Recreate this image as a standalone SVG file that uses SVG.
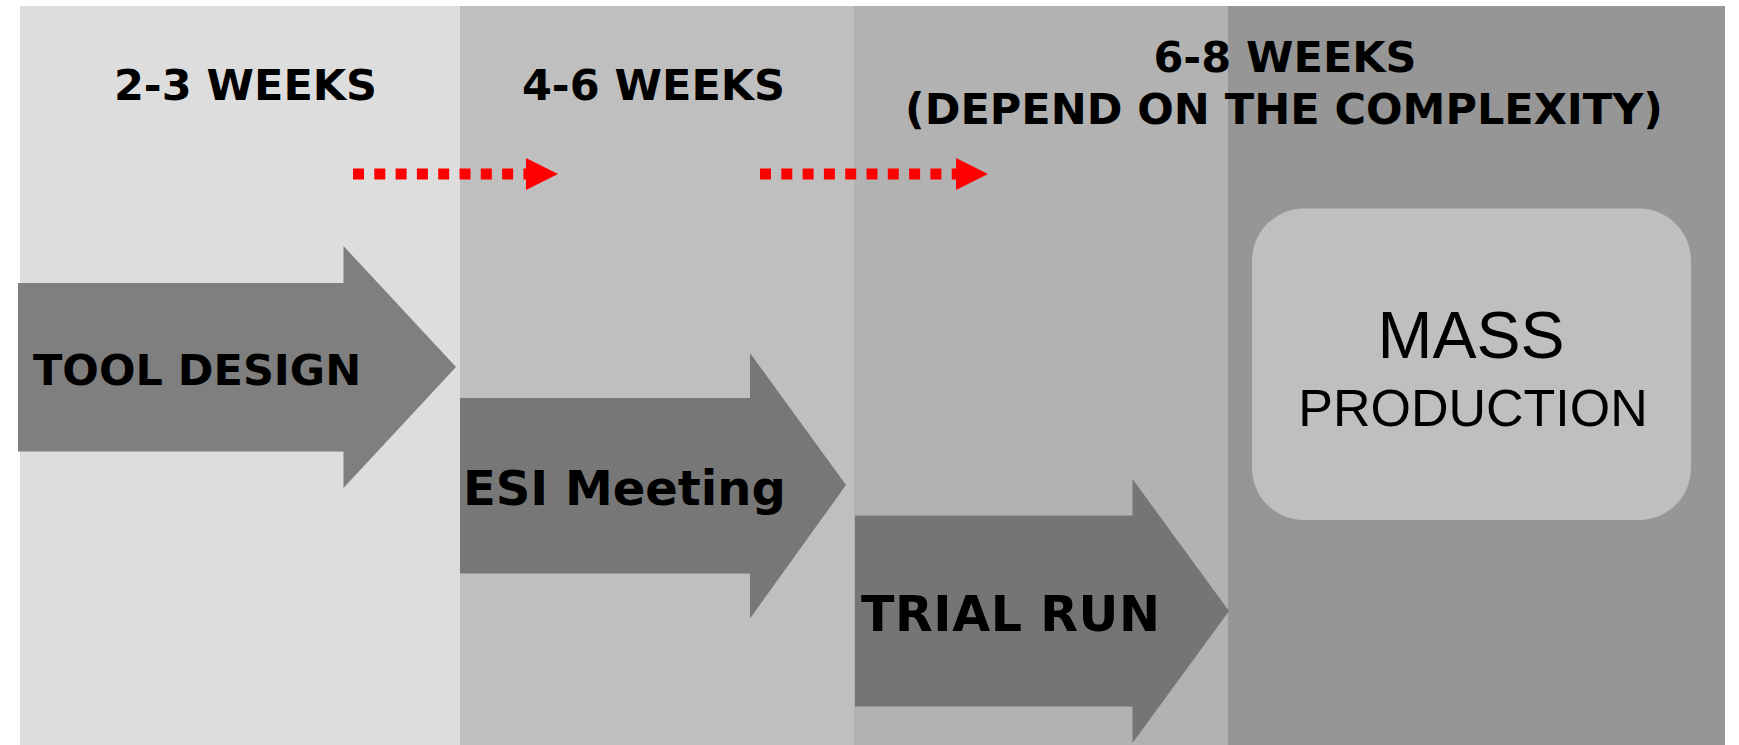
<svg xmlns="http://www.w3.org/2000/svg" width="1739" height="745" viewBox="0 0 1739 745">
  <style>
    .hdr { font-family: "DejaVu Sans", Verdana, sans-serif; font-weight: bold; font-size: 43px; fill: #000; text-anchor: middle; }
    .lbl { font-family: "DejaVu Sans", Verdana, sans-serif; font-weight: bold; fill: #000; }
    .reg { font-family: "Liberation Sans", Arial, sans-serif; fill: #000; text-anchor: middle; }
    .dot { stroke: #ff0000; stroke-width: 11; stroke-dasharray: 11 10.3; fill: none; }
  </style>
  <defs>
    <marker id="redHead" markerUnits="userSpaceOnUse" markerWidth="32" markerHeight="32" refX="0" refY="16" orient="auto">
      <path d="M0,0 L32,16 L0,32 Z" fill="#ff0000"/>
    </marker>
  </defs>
  <rect width="1739" height="745" fill="#ffffff"/>
  <g id="bands">
    <rect x="20" y="6" width="440" height="739" fill="#dddddd"/>
    <rect x="460" y="6" width="394" height="739" fill="#bfbfbf"/>
    <rect x="854" y="6" width="374" height="739" fill="#b2b2b2"/>
    <rect x="1228" y="6" width="497" height="739" fill="#969696"/>
  </g>
  <g id="headers">
    <text class="hdr" x="245.5" y="100">2-3 WEEKS</text>
    <text class="hdr" x="653.5" y="100">4-6 WEEKS</text>
    <text class="hdr" x="1285" y="72">6-8 WEEKS</text>
    <text class="hdr" x="1284" y="124">(DEPEND ON THE COMPLEXITY)</text>
  </g>
  <g id="connectors">
    <line class="dot" x1="353" y1="174" x2="526" y2="174" marker-end="url(#redHead)"/>
    <line class="dot" x1="760" y1="174" x2="956" y2="174" marker-end="url(#redHead)"/>
  </g>
  <g id="tool-design">
    <path d="M18,283 L343.5,283 L343.5,246 L456,367 L343.5,488 L343.5,451.5 L18,451.5 Z" fill="#7f7f7f"/>
    <text class="lbl" x="33" y="385" font-size="43">TOOL DESIGN</text>
  </g>
  <g id="esi-meeting">
    <path d="M460,398 L750,398 L750,353 L846,485 L750,618.5 L750,573.5 L460,573.5 Z" fill="#777777"/>
    <text class="lbl" x="463" y="505" font-size="48">ESI Meeting</text>
  </g>
  <g id="trial-run">
    <path d="M855,515.5 L1132.5,515.5 L1132.5,479 L1229,611 L1132.5,743 L1132.5,706.5 L855,706.5 Z" fill="#757575"/>
    <text class="lbl" x="861" y="631" font-size="49" letter-spacing="0.6">TRIAL RUN</text>
  </g>
  <g id="mass-production">
    <rect x="1252" y="208.5" width="439" height="311.5" rx="52" ry="52" fill="#bfbfbf"/>
    <text class="reg" x="1471" y="358" font-size="66">MASS</text>
    <text class="reg" x="1473" y="426" font-size="52">PRODUCTION</text>
  </g>
</svg>
